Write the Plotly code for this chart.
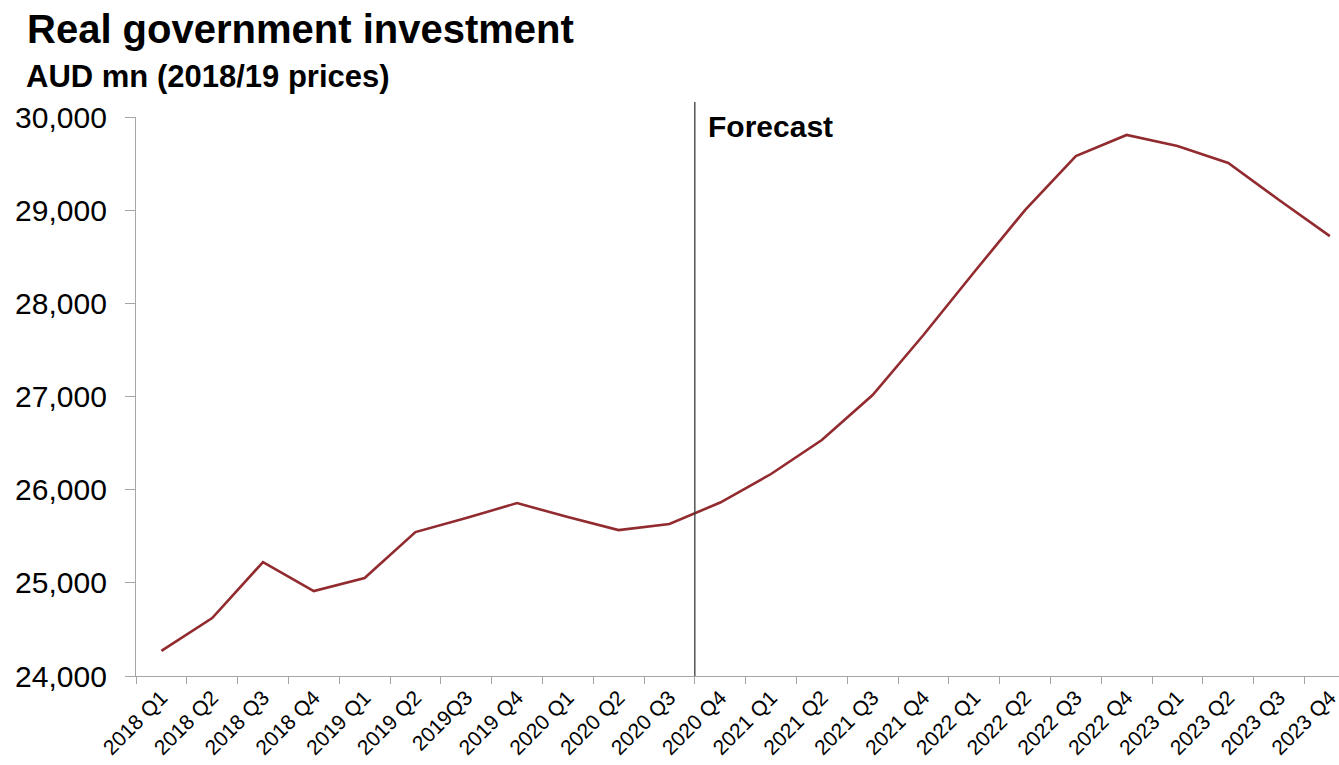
import plotly.graph_objects as go

quarters = ["2018 Q1", "2018 Q2", "2018 Q3", "2018 Q4",
            "2019 Q1", "2019 Q2", "2019Q3", "2019 Q4",
            "2020 Q1", "2020 Q2", "2020 Q3", "2020 Q4",
            "2021 Q1", "2021 Q2", "2021 Q3", "2021 Q4",
            "2022 Q1", "2022 Q2", "2022 Q3", "2022 Q4",
            "2023 Q1", "2023 Q2", "2023 Q3", "2023 Q4"]
investment = [24270, 24622, 25223, 24912,
              25051, 25545, 25695, 25856,
              25706, 25566, 25631, 25862,
              26168, 26533, 27016, 27660,
              28336, 29001, 29581, 29807,
              29688, 29506, 29109, 28722]
y_ticks = [24000, 25000, 26000, 27000, 28000, 29000, 30000]
forecast_start = 10.5  # boundary between 2020 Q3 and 2020 Q4

FONT = "Liberation Sans, Arial, sans-serif"
W, H = 1339, 765
L, R, T, B = 136, 0, 117, 89
pw, ph = W - L - R, H - T - B

fig = go.Figure()
fig.add_trace(go.Scatter(
    x=quarters, y=investment, mode="lines",
    line=dict(color="#922B2F", width=2.6),
    hoverinfo="x+y", showlegend=False, cliponaxis=False,
))

fig.add_shape(type="line", xref="x", yref="paper",
              x0=forecast_start, x1=forecast_start,
              y0=0, y1=1 + 15 / ph,
              line=dict(color="#3a3a3a", width=1.3))

fig.add_annotation(x=forecast_start, xref="x", y=1 - 9 / ph, yref="paper",
                   text="<b>Forecast</b>", showarrow=False,
                   xanchor="left", yanchor="middle", xshift=11,
                   font=dict(family=FONT, size=30, color="#000"))

fig.add_annotation(x=-(L - 24) / pw, xref="paper", y=1 + 41 / ph, yref="paper",
                   text="<b>AUD mn (2018/19 prices)</b>", showarrow=False,
                   xanchor="left", yanchor="middle",
                   font=dict(family=FONT, size=31, color="#000"))

fig.update_layout(
    width=W, height=H,
    margin=dict(l=L, r=R, t=T, b=B),
    paper_bgcolor="white", plot_bgcolor="white",
    title=dict(text="<b>Real government investment</b>",
               x=27 / W, xanchor="left", xref="container",
               y=1 - 15 / H, yanchor="top", yref="container",
               font=dict(family=FONT, size=40, color="#000")),
    font=dict(family=FONT, color="#000"),
)

fig.update_xaxes(
    type="category", range=[-0.5, 23.18], automargin=False,
    tickson="boundaries", ticks="outside", ticklen=7, tickcolor="#a6a6a6",
    tickangle=-45, tickfont=dict(family=FONT, size=21, color="#000"),
    showline=True, linecolor="#a6a6a6", linewidth=1.3,
    showgrid=False, zeroline=False,
)
fig.update_yaxes(
    range=[24000, 30000], tickvals=y_ticks, tickformat=",", automargin=False,
    ticks="outside", ticklen=10, tickcolor="#a6a6a6", ticklabelstandoff=12,
    tickfont=dict(family=FONT, size=30, color="#000"),
    showline=True, linecolor="#a6a6a6", linewidth=1.3,
    showgrid=False, zeroline=False,
)

fig.write_html(
    "out.html",
    config={"displayModeBar": False},
    post_script="document.body.style.margin='0';document.body.style.overflow='hidden';",
)
